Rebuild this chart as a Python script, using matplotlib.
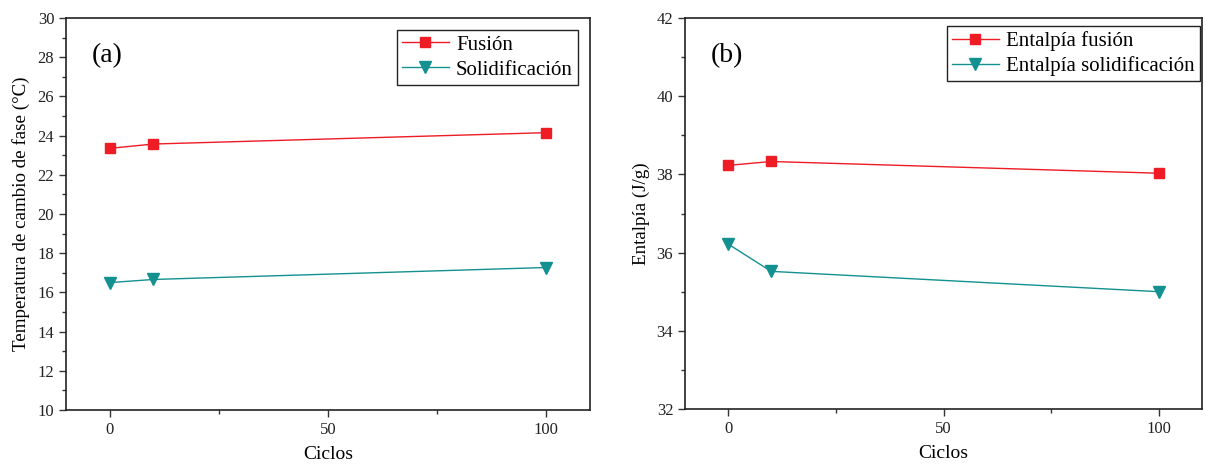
import matplotlib
matplotlib.use("Agg")
import matplotlib.pyplot as plt
from matplotlib.ticker import MultipleLocator

plt.rcParams['font.family'] = ['Liberation Serif', 'DejaVu Serif']
plt.rcParams['mathtext.fontset'] = 'stix'

ciclos = [0, 10, 100]
temp_fusion = [23.35, 23.57, 24.15]
temp_solid = [16.50, 16.66, 17.27]
ent_fusion = [38.23, 38.33, 38.03]
ent_solid = [36.22, 35.52, 35.00]

red = '#ee1c25'
teal = '#139090'

fig = plt.figure(figsize=(12.06, 4.65), dpi=100)
W, H = 1206, 465
ax1 = fig.add_axes([66 / W, 1 - 410 / H, (590 - 66) / W, (410 - 18) / H])
ax2 = fig.add_axes([685 / W, 1 - 409 / H, (1202 - 685) / W, (409 - 18) / H])

def style(ax, ylim, ylabel, letter):
    ax.set_xlim(-10, 110)
    ax.set_ylim(*ylim)
    ax.xaxis.set_major_locator(MultipleLocator(50))
    ax.xaxis.set_minor_locator(MultipleLocator(25))
    ax.yaxis.set_major_locator(MultipleLocator(2))
    ax.yaxis.set_minor_locator(MultipleLocator(1))
    ax.tick_params(which='major', direction='out', length=5, width=1, labelsize=12, colors='#333333', labelcolor='#222222')
    ax.tick_params(which='minor', direction='out', length=3, width=1, colors='#333333')
    ax.tick_params(top=False, right=False, which='both')
    for s in ax.spines.values():
        s.set_linewidth(1.2)
        s.set_color('#222222')
    ax.set_xlabel('Ciclos', fontsize=14, labelpad=6)
    ax.set_ylabel(ylabel, fontsize=13.7, labelpad=5)
    ax.text(0.05, 0.905, letter, transform=ax.transAxes, fontsize=20, va='center', ha='left')

def legend(ax, anchor):
    leg = ax.legend(loc='upper right', bbox_to_anchor=anchor, fontsize=15, frameon=True, fancybox=False,
                    edgecolor='#222222', borderpad=0.25, handlelength=2.25, labelspacing=0.25,
                    handletextpad=0.35, borderaxespad=0, framealpha=1)
    leg.get_frame().set_linewidth(1.0)

ax1.plot(ciclos, temp_fusion, color=red, marker='s', markersize=7, linewidth=1.0, label='Fusión')
ax1.plot(ciclos, temp_solid, color=teal, marker='v', markersize=8, linewidth=1.0, label='Solidificación')
style(ax1, (10, 30), 'Temperatura de cambio de fase (°C)', '(a)')
legend(ax1, ((578 - 66) / 524, (410 - 30) / 392))

ax2.plot(ciclos, ent_fusion, color=red, marker='s', markersize=7, linewidth=1.0, label='Entalpía fusión')
ax2.plot(ciclos, ent_solid, color=teal, marker='v', markersize=8, linewidth=1.0, label='Entalpía solidificación')
style(ax2, (32, 42), 'Entalpía (J/g)', '(b)')
legend(ax2, ((1200 - 685) / 517, (409 - 26) / 391))

fig.savefig('out.png', dpi=100)
